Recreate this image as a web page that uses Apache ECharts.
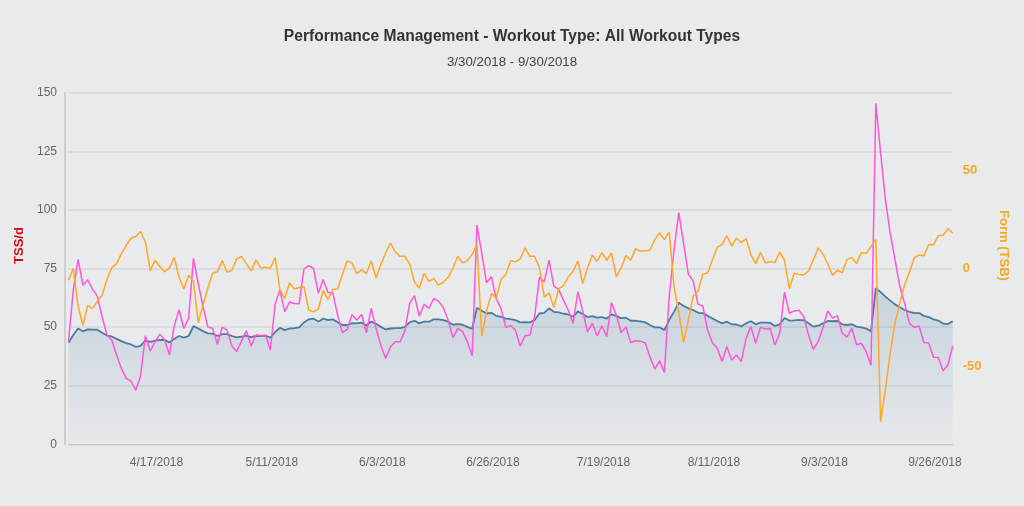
<!DOCTYPE html>
<html>
<head>
<meta charset="utf-8">
<style>
  html, body { margin: 0; padding: 0; background: #e9eaec; }
  #myChart { width: 1024px; height: 506px; }
</style>
<script src="https://cdn.jsdelivr.net/npm/echarts@6/dist/echarts.min.js"></script>
</head>
<body>
<div id="myChart"></div>
<script>
// one point per day, 3/30/2018 to 9/30/2018
var tickDates = ["4/17/2018", "5/11/2018", "6/3/2018", "6/26/2018", "7/19/2018", "8/11/2018", "9/3/2018", "9/26/2018"];
var tssTicks = [0, 25, 50, 75, 100, 125, 150];
var formTicks = [-50, 0, 50];

var ctl = [
  43.3, 46.6, 49.4, 48.2, 49, 48.9, 48.9, 47.6, 46.4, 46, 45, 44, 43.2, 42.6, 41.6, 42, 44.2, 43.7, 44.2, 44.5,
  44.5, 43.5, 44.9, 46.2, 45.5, 46.2, 50.4, 49.4, 48.3, 47.3, 47.2, 46.2, 47, 47, 46.2, 45.6, 45.9, 46.4, 45.7, 46.3,
  46.2, 46.3, 45.5, 47.9, 49.7, 48.7, 49.4, 49.6, 49.9, 52, 53.3, 53.6, 52.4, 53.6, 53, 53.3, 52.1, 50.9, 50.9, 51.7,
  51.6, 51.9, 50.7, 52.4, 51.4, 50.1, 49, 49.4, 49.6, 49.6, 50.1, 52, 52.7, 51.6, 52.3, 52.3, 53.3, 53.3, 53, 52.3,
  51, 51.3, 51, 50.1, 49.3, 58.3, 57, 55.8, 56.1, 54.8, 54.4, 53.6, 53.4, 53, 52, 52.1, 52, 53, 55.8, 56.1,
  58, 56.5, 56.3, 55.7, 55.4, 54.4, 56.7, 55.6, 54.3, 54.7, 54, 54.3, 53.6, 55.4, 54.8, 53.8, 54, 52.7, 52.7, 52.4,
  52, 50.9, 49.9, 49.9, 48.7, 53, 56.5, 60.4, 59, 58, 57.3, 56.1, 56, 54.8, 53.7, 52.6, 51.6, 52.3, 51.2, 51.1,
  50.3, 51.6, 52.5, 51.2, 51.9, 51.9, 51.8, 50.5, 51.2, 53.9, 52.8, 52.9, 53.1, 52.9, 51.6, 50.2, 50.6, 51.6, 52.6, 52.5,
  52.6, 51.2, 50.9, 51.2, 50.2, 49.9, 49.4, 48.2, 66.6, 64.9, 63, 61.3, 59.7, 58.5, 57.3, 56.5, 56, 56, 54.8, 54.3,
  53.3, 52.8, 51.5, 51.3, 52.5
];
var tss = [
  43.7, 65.8, 78.9, 67.9, 70.2, 66.1, 63.2, 54.4, 46.6, 44.5, 38.1, 32.4, 28.1, 27, 23, 29.2, 46.3, 39.8, 43.7, 47,
  44.5, 38.2, 50.4, 57.4, 49.4, 53.7, 79.3, 68.6, 58.7, 50.1, 49.4, 42.7, 50, 48.7, 41.9, 39.6, 44, 48.4, 41.9, 46.6,
  46.3, 46.6, 40.2, 59.8, 65.8, 56.5, 60.7, 60.1, 60, 74.8, 76.2, 75, 64.4, 70.3, 64.7, 64.7, 55.1, 47.6, 49, 55.3,
  53, 55.4, 47.6, 58, 49.4, 42.3, 36.6, 41.6, 43.7, 43.7, 48.4, 60.1, 63.4, 54.6, 59.7, 58, 62.2, 61.1, 58.4, 53,
  45.5, 49.4, 48.2, 43.7, 37.8, 93.5, 81.4, 68.9, 71.5, 62.1, 58, 49.9, 50.7, 48.7, 41.9, 46.3, 46.6, 54.4, 71.2, 69.3,
  78.6, 67.5, 66.1, 61.5, 57.3, 51.6, 65.1, 56.8, 48, 51.6, 46.2, 50.6, 45.9, 60.4, 55.1, 47.7, 50.1, 43.3, 44.2, 44,
  43.3, 37.3, 32.1, 35.6, 30.7, 62.9, 82.9, 98.8, 85.7, 72.6, 69.6, 59.8, 59, 48.7, 43.3, 41, 35.3, 41.7, 36, 38.1,
  35.3, 45.2, 50.2, 43.1, 49.9, 49.2, 49.4, 42.4, 47.4, 64.9, 55.9, 56.9, 57.2, 54.5, 46.6, 40.5, 43.8, 49.8, 56.9, 53.8,
  54.9, 47.4, 45.7, 49.5, 42.5, 43.1, 39.5, 33.7, 145.5, 124.2, 104.3, 90, 78.7, 67.3, 60.2, 51.6, 49.9, 50.5, 43.4, 43.2,
  37.1, 37, 31.4, 33.8, 42
];
var tsb = [
  -6, 0, -19.2, -28.9, -18.9, -20.4, -16.7, -13.6, -5.6, 0.3, 2.5, 7.6, 11.7, 15.4, 16.3, 18.8, 13.5, -1.1, 4.2, 1,
  -1.7, 0.3, 5.6, -4.3, -10.4, -3.4, -6.5, -27.7, -18.6, -9.9, -2.3, -1.6, 4, -1.9, -0.9, 4.9, 6.2, 2.5, -1.2, 4.4,
  0.3, 0.6, 0.1, 5.6, -10.7, -15.3, -7.3, -10.4, -9.7, -9.4, -21.1, -22.1, -20.6, -11.2, -15.8, -10.7, -10.4, -3.1, 3.9, 2.8,
  -2.6, -0.7, -2.6, 3.9, -4.8, 2, 7.9, 12.9, 8.4, 6.2, 6.2, 2.3, -7, -9.9, -2.4, -6.5, -5, -8.5, -7, -4.5,
  0.1, 6.2, 2.8, 4, 7.1, 12.2, -34.5, -21.8, -12.8, -15, -5.6, -3.1, 4, 3.4, 4.9, 10.5, 6.2, 6.2, 0.3, -14.5,
  -12.4, -19.7, -10.4, -8.7, -4.3, -1.4, 3.9, -7.7, 0.3, 6.7, 3.7, 8.1, 4.2, 7.9, -4.3, 0.3, 6.6, 4.2, 10, 8.8,
  9, 9.3, 14.7, 18.1, 14.7, 18.6, -9, -22.6, -37.6, -26, -14.1, -11.6, -2.9, -2.3, 4.5, 10.8, 12.2, 16.7, 11.3, 15.5,
  13.2, 15.2, 7.1, 2.5, 8.2, 2.8, 3.5, 3, 8.4, 4.2, -10.3, -2.4, -3, -3.3, -1.4, 4.5, 10.5, 7.4, 2.3, -3.5,
  -0.9, -2.1, 4.5, 5.7, 2.5, 8.2, 7.7, 11.3, 14.7, -78.2, -61.7, -43, -27.7, -17.6, -8.2, -1.9, 5.4, 6.9, 6.5, 12.2,
  12, 16.7, 16.9, 20.3, 18.1
];

var dates = [];
for (var i = 0; i < tss.length; i++) {
  var d = new Date(2018, 2, 30 + i);
  dates.push((d.getMonth() + 1) + "/" + d.getDate() + "/" + d.getFullYear());
}

var chartDom = document.getElementById("myChart");
var myChart = echarts.init(chartDom);

var font = "'Liberation Sans', Helvetica, Arial, sans-serif";

var option = {
  animation: false,
  backgroundColor: "#e9eaec",
  textStyle: { fontFamily: font },
  title: {
    text: "Performance Management - Workout Type: All Workout Types",
    subtext: "3/30/2018 - 9/30/2018",
    left: "center",
    top: 24,
    itemGap: 11,
    textStyle: { fontSize: 15.6, fontWeight: "bold", color: "#333", fontFamily: font },
    subtextStyle: { fontSize: 13.3, color: "#444", fontFamily: font },
  },
  grid: { left: 68.5, right: 71.3, top: 92.7, bottom: 61.7 },
  xAxis: {
    type: "category",
    boundaryGap: false,
    data: dates,
    offset: 3,
    axisLine: { lineStyle: { color: "#c4c5c8", width: 1.2 } },
    axisTick: { show: false },
    axisLabel: {
      color: "#666",
      fontSize: 12,
      margin: 9,
      padding: [0, 0, 0, 3],
      interval: function (index, value) {
        return tickDates.indexOf(value) >= 0;
      },
    },
    splitLine: { show: false },
  },
  yAxis: [
    {
      type: "value",
      min: tssTicks[0],
      max: tssTicks[tssTicks.length - 1],
      interval: 25,
      offset: 3.5,
      name: "TSS/d",
      nameLocation: "middle",
      nameRotate: 90,
      nameGap: 39,
      nameMoveOverlap: false,
      nameTextStyle: { color: "#c8101a", fontSize: 13, fontWeight: "bold", fontFamily: font, padding: [0, 0, 0, 46] },
      axisLine: { show: true, lineStyle: { color: "#c4c5c8", width: 1.5 } },
      axisTick: { show: false },
      axisLabel: { color: "#666", fontSize: 12, margin: 8, padding: [2, 0, 0, 0] },
      splitLine: { show: true, lineStyle: { color: "#d6d7da", width: 1.5 } },
    },
    {
      type: "value",
      min: -89.5,
      max: 89.5,
      position: "right",
      name: "Form (TSB)",
      nameLocation: "middle",
      nameRotate: -90,
      nameGap: 44,
      nameTextStyle: { color: "#f7a823", fontSize: 13, fontWeight: "bold", fontFamily: font, padding: [0, 46, 0, 0] },
      axisLine: { show: false },
      axisTick: { show: false },
      axisLabel: {
        color: "#f7a823",
        fontSize: 13,
        fontWeight: "bold",
        margin: 10,
        padding: [2, 0, 0, 0],
        customValues: formTicks,
      },
      splitLine: { show: false },
    },
  ],
  series: [
    {
      name: "CTL",
      type: "line",
      data: ctl,
      showSymbol: false,
      lineStyle: { color: "#4a7b9f", width: 1.8 },
      areaStyle: {
        color: new echarts.graphic.LinearGradient(0, 0, 0, 1, [
          { offset: 0, color: "rgba(70,125,165,0.3)" },
          { offset: 1, color: "rgba(70,125,165,0.02)" },
        ]),
      },
    },
    {
      name: "TSS",
      type: "line",
      data: tss,
      showSymbol: false,
      lineStyle: { color: "#ff55d8", width: 1.5 },
    },
    {
      name: "TSB",
      type: "line",
      yAxisIndex: 1,
      data: tsb,
      showSymbol: false,
      lineStyle: { color: "#ffa726", width: 1.5 },
    },
  ],
};

option && myChart.setOption(option);
</script>
</body>
</html>
